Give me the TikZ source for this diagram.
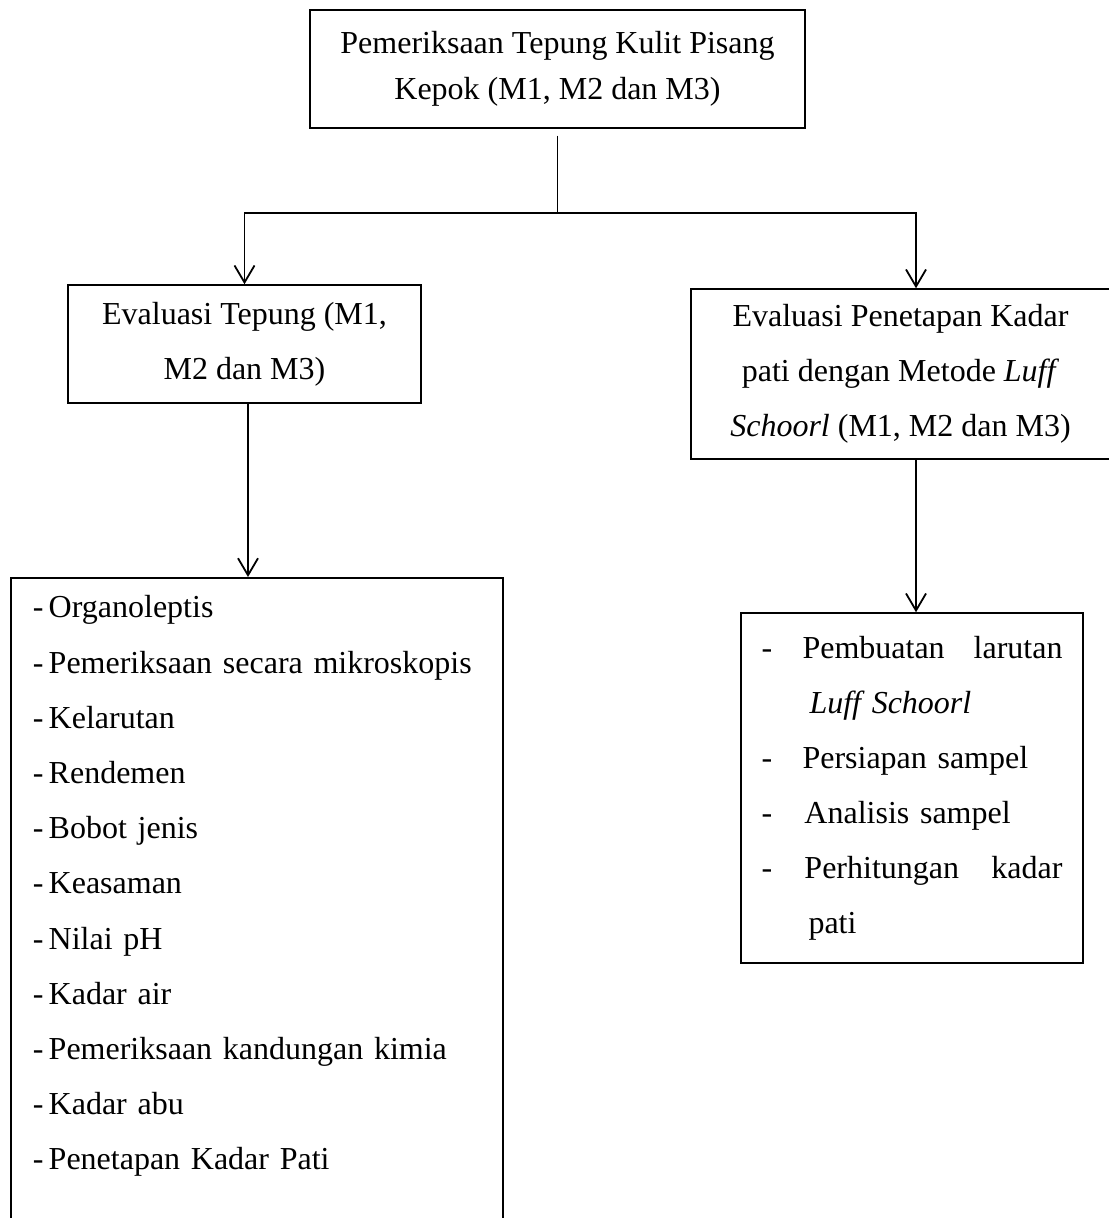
\documentclass[tikz,border=0pt]{standalone}
\usepackage{fontspec}
\setmainfont{Liberation Serif}
\usetikzlibrary{arrows.meta}

\newcommand{\strip}{\makebox[8pt][l]{-}}

\begin{document}
\begin{tikzpicture}[>={Straight Barb[length=8.5pt,width=10pt]},
    kotak/.style={draw,line width=0.75pt,align=center,font=\fontsize{16}{27.5}\selectfont},
    daftar/.style={draw,line width=0.75pt,align=left,font=\fontsize{16}{27.6}\selectfont}]
      \useasboundingbox (0,0) rectangle (554pt,-609pt);
      \node [kotak,font=\fontsize{16}{23}\selectfont,minimum width=247.5pt,minimum height=59pt] (periksa) at (278.75pt,-34.5pt)
        {Pemeriksaan Tepung Kulit Pisang\\Kepok (M1, M2 dan M3)};
      \node [kotak,minimum width=176.5pt,minimum height=59pt] (evaltepung) at (122.25pt,-172pt)
        {Evaluasi Tepung (M1,\\M2 dan M3)};
      \node [kotak,minimum width=209.5pt,minimum height=85pt] (evalkadar) at (450.25pt,-187pt)
        {Evaluasi Penetapan Kadar\\pati dengan Metode \textit{Luff}\\\textit{Schoorl} (M1, M2 dan M3)};
      % daftar uji tepung (kotak terpotong di bawah)
      \node [daftar,anchor=north west,text width=224pt,inner xsep=11pt,inner ysep=9pt] (ujitepung) at (5pt,-288.5pt)
        {\strip Organoleptis\\
         \strip Pemeriksaan secara mikroskopis\\
         \strip Kelarutan\\
         \strip Rendemen\\
         \strip Bobot jenis\\
         \strip Keasaman\\
         \strip Nilai pH\\
         \strip Kadar air\\
         \strip Pemeriksaan kandungan kimia\\
         \strip Kadar abu\\
         \strip Penetapan Kadar Pati\\
         \mbox{}};
      \node [daftar,font=\fontsize{16}{27.5}\selectfont,text width=150.5pt,inner xsep=10.25pt,minimum height=175pt] (langkah) at (456pt,-394pt)
        {\makebox[20.5pt][l]{-}Pembuatan\hfill larutan\\
         \hspace*{24pt}\textit{Luff Schoorl}\\
         \makebox[20.5pt][l]{-}Persiapan sampel\\
         \makebox[21.5pt][l]{-}Analisis sampel\\
         \makebox[21.5pt][l]{-}Perhitungan\hfill kadar\\
         \hspace*{23.5pt}pati};
      \coordinate (cabang) at ([yshift=-42pt]periksa.south);
      \draw [line width=0.9pt,shorten <=3.5pt] (periksa.south) -- (cabang);
      \draw [->,line width=0.9pt] (cabang) -| (evaltepung.north);
      \draw [->,line width=0.9pt] (cabang) -| ([xshift=7.75pt]evalkadar.north);
      \draw [->,line width=0.9pt] ([xshift=1.75pt]evaltepung.south) -- ([xshift=1.75pt]evaltepung.south |- ujitepung.north);
      \draw [->,line width=0.9pt] ([xshift=7.75pt]evalkadar.south) -- ([xshift=7.75pt]evalkadar.south |- langkah.north);
\end{tikzpicture}
\end{document}
